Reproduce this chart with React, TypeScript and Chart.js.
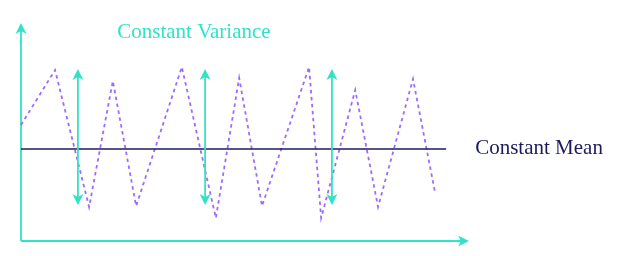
import React, { useEffect, useRef } from "react";
import { Chart, registerables } from "chart.js";

Chart.register(...registerables);

// Time values of the zigzag series and its observed values
const seriesTimes = [0, 7.6, 15.2, 20.5, 25.7, 35.9, 43.5, 48.7, 53.8, 64.3, 67.0, 74.6, 79.7, 87.5, 92.4];
const seriesValues = [2.4, 7.9, -5.8, 6.8, -5.7, 8.2, -6.9, 7.1, -5.7, 8.2, -6.9, 5.9, -5.8, 7.0, -4.3];

// Mean level and its extent in time
const meanValue = 0;
const meanTimes = [0, 94.9];

// Double-headed spread markers
const spreadTimes = [12.7, 41.1, 69.4];
const spreadTop = 8.0;
const spreadBottom = -5.6;

// Axis ranges
const xRange = [0, 100];
const yRange = [-9.2, 12.6];

const varianceLabel = "Constant Variance";
const varianceLabelAt = { x: 38.6, y: 11.1 };
const meanLabel = "Constant Mean";

const TEAL = "#2FE3C6";
const PURPLE = "#9B6BFF";
const NAVY = "#1B1B5C";
const SERIF = '"Liberation Serif", "Times New Roman", serif';

function arrowHead(ctx: CanvasRenderingContext2D, x: number, y: number, angle: number, color: string) {
  const len = 11;
  const half = 5.5;
  const notch = 3;
  ctx.save();
  ctx.translate(x, y);
  ctx.rotate(angle);
  ctx.beginPath();
  ctx.moveTo(0, 0);
  ctx.lineTo(-len, -half);
  ctx.lineTo(-len + notch, 0);
  ctx.lineTo(-len, half);
  ctx.closePath();
  ctx.fillStyle = color;
  ctx.fill();
  ctx.restore();
}

const decorations = {
  id: "decorations",
  beforeDatasetsDraw(chart: any) {
    const { ctx, chartArea } = chart;
    ctx.save();
    ctx.strokeStyle = TEAL;
    ctx.lineWidth = 1.8;
    ctx.beginPath();
    ctx.moveTo(chartArea.left, chartArea.bottom);
    ctx.lineTo(chartArea.left, chartArea.top + 6);
    ctx.moveTo(chartArea.left, chartArea.bottom);
    ctx.lineTo(chartArea.right - 6, chartArea.bottom);
    ctx.stroke();
    arrowHead(ctx, chartArea.left, chartArea.top, -Math.PI / 2, TEAL);
    arrowHead(ctx, chartArea.right, chartArea.bottom, 0, TEAL);
    ctx.restore();
  },
  afterDatasetsDraw(chart: any) {
    const { ctx, scales } = chart;
    const xs = scales.x;
    const ys = scales.y;
    ctx.save();
    ctx.strokeStyle = TEAL;
    ctx.lineWidth = 1.8;
    for (const t of spreadTimes) {
      const px = xs.getPixelForValue(t);
      const top = ys.getPixelForValue(spreadTop);
      const bottom = ys.getPixelForValue(spreadBottom);
      ctx.beginPath();
      ctx.moveTo(px, top + 6);
      ctx.lineTo(px, bottom - 6);
      ctx.stroke();
      arrowHead(ctx, px, top, -Math.PI / 2, TEAL);
      arrowHead(ctx, px, bottom, Math.PI / 2, TEAL);
    }

    ctx.font = `21px ${SERIF}`;
    ctx.textBaseline = "alphabetic";
    ctx.fillStyle = TEAL;
    ctx.textAlign = "center";
    ctx.fillText(varianceLabel, xs.getPixelForValue(varianceLabelAt.x), ys.getPixelForValue(varianceLabelAt.y));

    ctx.fillStyle = NAVY;
    ctx.textAlign = "left";
    const meanEndPx = xs.getPixelForValue(meanTimes[1]);
    ctx.fillText(meanLabel, meanEndPx + 29, ys.getPixelForValue(meanValue) + 5);
    ctx.restore();
  },
};

export default function App() {
  const canvasRef = useRef<HTMLCanvasElement | null>(null);

  useEffect(() => {
    const canvas = canvasRef.current;
    if (!canvas) return;
    const chart = new Chart(canvas, {
      type: "scatter",
      data: {
        datasets: [
          {
            data: meanTimes.map((t) => ({ x: t, y: meanValue })),
            showLine: true,
            borderColor: NAVY,
            borderWidth: 1.6,
            pointRadius: 0,
            clip: false,
          } as any,
          {
            data: seriesTimes.map((t, i) => ({ x: t, y: seriesValues[i] })),
            showLine: true,
            borderColor: PURPLE,
            borderWidth: 1.8,
            borderDash: [3.5, 3.5],
            pointRadius: 0,
            tension: 0,
            clip: false,
          } as any,
        ],
      },
      options: {
        animation: false,
        responsive: false,
        devicePixelRatio: 1,
        layout: { padding: { left: 21, top: 23, right: 148, bottom: 15 } },
        scales: {
          x: { type: "linear", min: xRange[0], max: xRange[1], display: false },
          y: { type: "linear", min: yRange[0], max: yRange[1], display: false },
        },
        plugins: {
          legend: { display: false },
          tooltip: { enabled: false },
          title: { display: false },
        },
        events: [],
      },
      plugins: [decorations],
    });
    return () => chart.destroy();
  }, []);

  return (
    <div style={{ position: "fixed", left: 0, top: 0, width: 617, height: 256, background: "#fff" }}>
      <canvas ref={canvasRef} width={617} height={256} style={{ display: "block" }} />
    </div>
  );
}
